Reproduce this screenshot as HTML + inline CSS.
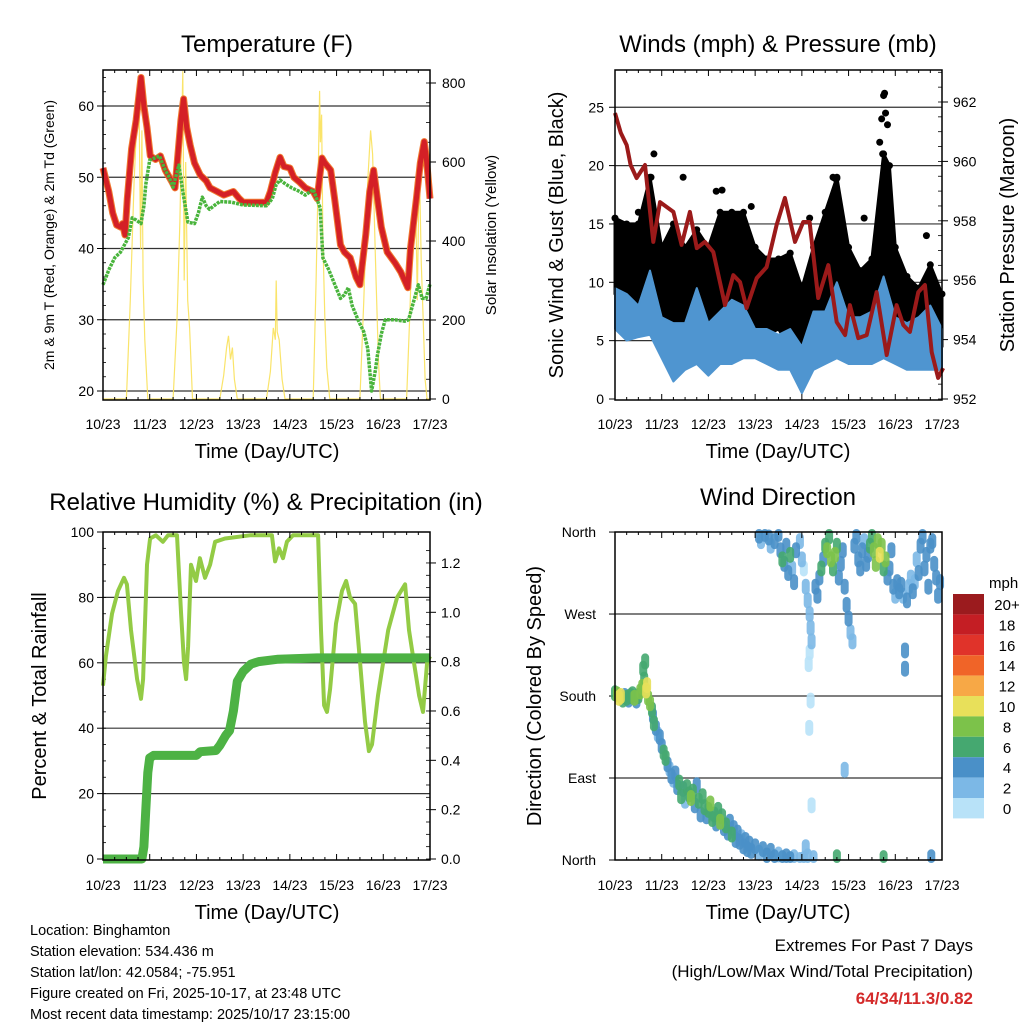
<!DOCTYPE html>
<html><head><meta charset="utf-8"><style>
html,body{margin:0;padding:0;background:#fff}
svg{display:block;font-family:"Liberation Sans",sans-serif}
</style></head><body>
<svg id="c" width="1024" height="1024" viewBox="0 0 1024 1024" xmlns="http://www.w3.org/2000/svg"></svg>
<script>
// ---- Temperature panel data ----
const redH=[0,3,5,7,9,10,11.3,12.5,14.7,17,19.5,21,22.6,24.3,27,29.5,32,35.5,37,38,40,41.4,43,44.8,47,50,53,55,58.6,62,67,70,72,78,84,86,88.5,91,93,96,98,101,104,108,110,112.5,114,117,119,122,124,127,130,132,135,137,139,141,143,146,150,153,156.6,158,161,163,165,166,167,168];
const redV=[51.3,48,45,43.3,43,43.5,41.9,47,54,58,64,60,57,53,52.5,53,51,49.3,48.5,51.7,58,61,57,54.5,52,50.3,49.5,48.5,48,47.5,48,47,46.5,46.5,46.5,48,50.7,52.8,51.5,51.3,50,49.3,48.5,48,47,52.7,52,51,47,40.5,39.5,38.7,36,34.9,42,48,51,47,43,39.5,38,36.7,34.5,40,47,52,55,53,50,47];
const grnH=[0,3,6,9,13,15,17,19.5,21,22,24,29,32,34,36,39,41,43.6,47,49,51,53,54.7,57,60,66,72,84,87,89,91,94,97,101,104,108,111.6,113,116,119,122,124,126,128,131,134,136,138,140,141,143,145,150,155,157,159,162,164,166,168];
const grnV=[34.9,37,38.7,39.5,41.5,44.3,44,43.5,46,49,52.4,53,51,50,48.6,51.7,48,43.7,43.5,45,47.2,46,45.5,46,46.6,46.5,46.1,46,47,49,49.6,49,48.5,48,47.5,48.3,45.7,38.7,37,35,33,33.5,34.5,32,30,28.3,26,20,23,25,28,30,30,29.8,30,32,34.9,33,33,35];
const solH=[0,12,14,16,17.5,18.5,19.3,20,20.6,21.5,23,36,38,39.5,40.5,41,41.7,42.5,43.5,44.5,46,60,62,63.5,64.5,65.5,66.5,67.5,69,84,86,87.5,88.5,89,89.5,90.5,92,93.5,108,109.5,110.5,111.3,111.7,112.3,113,114,115,116.5,132,134,136,137.5,138.5,140,141.5,142.5,156,157.5,159,160.5,161.5,162.5,163.5,164.5,165.5,166.5,168];
const solV=[0,0,250,550,720,760,380,680,300,150,0,0,200,450,700,830,300,600,250,180,0,0,60,130,160,100,130,50,0,0,70,180,150,300,170,150,50,0,0,300,550,780,650,720,400,200,80,0,0,250,550,680,620,350,100,0,0,200,420,550,250,600,350,200,50,0,0];
const tempTicks=[20,30,40,50,60];
const solarTicks=[0,200,400,600,800];
const dayLabels=["10/23","11/23","12/23","13/23","14/23","15/23","16/23","17/23"];
// ---- Wind panel data ----
const presH=[0,3,6,8,11.1,14.5,15.4,19.7,23.1,30,34.2,38.5,42,46.2,50.5,56.5,60.8,64.2,67.6,72.8,77.9,83,87.3,92.5,96.7,100,104.4,109.6,113.9,118.2,120.7,125,129.3,134.4,139.6,144.7,148.1,151.5,155.8,159.2,162.7,166,168.6];
const presV=[961.63,960.96,960.55,959.88,959.44,959.78,959.88,957.29,958.63,958.3,957.19,958.3,957.08,957.29,956.95,955.16,956.17,955.94,955.06,956.07,956.44,957.86,958.77,957.29,957.96,957.96,955.4,956.51,954.59,954.15,955.16,954.05,954.15,955.6,953.48,955.16,954.49,954.26,955.6,955.84,953.58,952.71,953.04];
const windH=[0,6,12,18,24,30,36,42,48,54,60,66,72,78,84,90,96,102,108,114,120,126,132,138,144,150,156,162,168];
const windHi=[9.5,9,8,11,7,6.5,6.5,9.5,6.5,7.5,8.5,8,6,6,5.5,6,4.5,7.5,7.5,10,7,7,7.5,10.5,7,6.5,7,8,6];
const windLo=[6,5,5.3,5.5,3.5,1.5,2.5,3,2,3,3,3.5,3.5,3,2.5,2.5,0.5,2.5,3,3.5,3,3,3,3.5,3,2.5,2.5,2.5,2.5];
const gustH=[0,6,12,18,24,30,36,42,48,54,60,66,72,78,84,90,96,102,108,114,120,126,132,138,141,144,150,156,162,168];
const gustHi=[15.5,15,15,19,13,15,13,14.5,13,16,16,16,13,12,12,12.5,9.5,13,16,19,13,11,12,21,20,13,10.5,9.5,11.5,9];
const gustLo=[9,8,8,9,4,3.5,3.5,5,4.5,6.5,7,6,6,5.5,6,4.5,2,6,6,7,6,5.5,5,8,8,5,4.5,3.5,5,4.5];
const gustPeakH=[2,12,18.5,20,35,52,55,70,100,112,113,114,128,136,137,137.5,138,138.5,139,140,160];
const gustPeakV=[14,16,19,21,19,17.8,17.9,16.5,15.5,19,18.9,18.9,15.5,22,24,21,26,26.2,24.5,23.5,14];
const windTicks=[0,5,10,15,20,25];
const presTicks=[952,954,956,958,960,962];
// ---- RH panel data ----
const rhH=[0,1.5,4.6,7.7,10.8,12.3,14.4,17.5,19.5,20.6,22.6,24.2,27.2,30.8,33.4,38,40.1,41.6,42.7,43.7,45.2,47.8,49.8,52.4,55,57.6,62.7,75.5,86.8,88.4,90.4,92.5,94.5,97.6,110.5,112,113.6,115.1,116.7,119.7,122.8,124.9,126.9,129.5,132.1,134.6,136.6,138.2,141.3,146.5,151.1,155.2,157.2,159.8,162.4,164.4,166.5,168];
const rhV=[53,62,75,82,86,84,70,55,49,55,90,98,99,97,99,99,75,60,55,65,90,85,92,86,90,97,98,99,99,91,95,92,97,99,99,70,47,45,52,72,82,85,80,78,60,42,33,35,50,70,80,84,70,60,50,45,60,62];
const rainH=[0,20,21,22,23,24,26,48,50,58,60,63,65,67,69,72,76,80,90,110,168];
const rainV=[0,0,0.05,0.2,0.35,0.41,0.42,0.42,0.435,0.44,0.46,0.5,0.52,0.6,0.72,0.76,0.79,0.8,0.81,0.815,0.815];
const rhTicks=[0,20,40,60,80,100];
const rainTicks=[0,0.2,0.4,0.6,0.8,1.0,1.2];
// ---- Wind direction data: hour, degrees, mph ----
const dirH=[
0,1,2,3,4,5,6,7,8,9,
10,11,12,13,14,14.5,15,15.5,16,16.5,
17,18,19,19.5,20,21,22,23,24,25,
26,27,28,29,30,31,32,33,34,35,
36,37,38,39,40,41,42,43,44,45,
46,47,48,49,50,51,52,53,54,55,
56,57,58,59,60,61,62,63,64,65,
66,67,68,69,70,72,74,76,78,80,
82,84,86,88,90,92,95,97,99,102,
74,75,77,79,80,82,84,85,86,87,
88,89,90,91,92,93,95,96,97,98,
99,100,100.5,101,100,99.5,100.5,99.8,101,98,
103,104,105,106,107,108,109,110,111,112,
113,114,115,116,117,118,119,120,121,122,
123,124,125,126,127,128,129,130,131,132,
133,134,135,136,137,138,139,140,141,142,
143,144,145,146,147,148,149,149,150,151,
152,153,154,155,156,157,158,159,160,161,
162,163,164,165,166,167,118,114,138,162.5];
const dirD=[
183,182,178,180,176,180,178,176,180,182,
178,175,180,185,190,210,198,218,186,192,
178,172,165,158,150,145,138,135,125,118,
112,105,100,92,88,95,80,85,70,78,
65,80,72,68,75,60,82,65,50,70,
58,48,55,62,45,50,40,55,42,48,
35,38,30,42,28,35,22,30,20,25,
15,22,12,18,10,15,8,12,5,10,
3,6,2,4,1,3,0,1,4,2,
356,350,358,354,345,350,358,340,330,325,
345,315,335,320,305,340,350,330,320,300,
285,270,255,240,228,215,175,145,60,14,
300,290,310,320,330,345,340,355,330,320,
335,345,310,325,340,300,280,265,250,240,
345,355,330,320,340,350,325,335,345,355,
340,325,350,335,345,320,330,310,320,340,
300,290,305,295,302,290,230,210,285,300,
310,295,305,330,315,345,355,320,335,300,
345,350,325,310,290,305,99,3,2,3];
const dirS=[
6,9,10,11,7,5,6,4,7,6,
8,5,6,8,9,6,7,6,11,10,
9,8,7,5,6,4,3,5,4,7,
6,4,3,4,3,5,4,7,6,4,
3,7,6,8,6,4,5,6,4,6,
7,5,6,8,6,7,5,6,8,6,
5,6,4,5,6,4,5,4,4,3,
4,5,4,5,4,4,3,4,4,5,
4,3,4,4,5,3,3,3,3,3,
4,3,4,4,3,4,5,4,6,5,
4,4,6,3,4,5,2,2,1,2,
2,2,2,2,1,1,1,1,1,2,
4,4,5,6,4,7,8,6,9,7,
8,6,4,4,4,4,4,4,3,3,
4,4,4,5,4,3,4,4,6,7,
8,8,9,10,9,7,8,4,4,4,
4,3,4,4,4,3,4,4,4,3,
3,4,3,3,4,4,4,5,4,4,
4,5,4,4,4,4,3,6,6,4];
const dirTickLabels=["North","East","South","West","North"];
const cbLabels=["20+","18","16","14","12","10","8","6","4","2","0"];
const cbColors=["#9b1b1e","#c41e24","#e0332a","#f06428","#f7a846","#e8e05a","#7cc24a","#45a870","#4a90c8","#7cb8e6","#b8e2f8"];

const NS="http://www.w3.org/2000/svg";
const svg=document.getElementById('c');
function mk(tag,attrs,parent){const e=document.createElementNS(NS,tag);for(const k in attrs)e.setAttribute(k,attrs[k]);(parent||svg).appendChild(e);return e;}
function txt(s,x,y,size,anchor,extra){const e=mk('text',Object.assign({x:x,y:y,'font-size':size,'text-anchor':anchor||'middle',fill:'#000'},extra||{}));e.textContent=s;return e;}
function line(x1,y1,x2,y2,w,c){return mk('line',{x1:x1,y1:y1,x2:x2,y2:y2,stroke:c||'#000','stroke-width':w||1});}
function poly(hs,vs,fx,fy){return hs.map((h,i)=>fx(h).toFixed(1)+','+fy(vs[i]).toFixed(1)).join(' ');}

const xA=h=>103+h*327/168, xB=h=>615+h*327/168;
const yT=v=>391-(v-20)*7.125, yS=v=>399-v*0.395;
const yW=v=>399-v*11.67, yP=p=>399-(p-952)*29.7;
const yR=v=>859-v*3.27, yIn=v=>859-v*246.7;
const yD=d=>860-d*0.911;
let e;

function dayAxis(fx,top,bot,ylab,name){
  for(let i=0;i<dayLabels.length;i++){
    const x=fx(i*24);
    line(x,bot,x,bot-6,1);line(x,top,x,top+6,1);
    for(let k=1;k<4&&i<7;k++){const xm=fx(i*24+k*6);line(xm,bot,xm,bot-3,1);line(xm,top,xm,top+3,1);}
    e=txt(dayLabels[i],x,ylab,14);
    
    
  }
}
function frame(x0,y0,x1,y1,name){
  e=mk('rect',{x:x0,y:y0,width:x1-x0,height:y1-y0,fill:'none',stroke:'#000','stroke-width':1.5});
  
  
}

// ================= Panel 1: Temperature =================
e=txt("Temperature (F)",267,52,24);


tempTicks.forEach(v=>{const y=yT(v);line(103,y,430,y,1.2,'#333');line(103,y,97,y,1);
  e=txt(String(v),94,y+5,14,'end');
  
  });
for(let v=20;v<=64;v+=2){line(103,yT(v),106,yT(v),0.8);}
solarTicks.forEach(v=>{const y=yS(v);line(430,y,436,y,1);
  e=txt(String(v),442,y+5,14,'start');
  
  });
for(let v=0;v<=800;v+=50){line(430,yS(v),426,yS(v),0.8);}
e=mk('polyline',{points:poly(solH,solV,xA,yS),fill:'none',stroke:'#f9e15a','stroke-width':1.2,'stroke-opacity':0.9});


e=mk('polyline',{points:poly(redH,redV,xA,yT),fill:'none',stroke:'#f07a30','stroke-width':7,'stroke-linejoin':'round'});


e=mk('polyline',{points:poly(redH,redV,xA,yT),fill:'none',stroke:'#d42026','stroke-width':5,'stroke-linejoin':'round'});


e=mk('polyline',{points:poly(grnH,grnV,xA,yT),fill:'none',stroke:'#49b43c','stroke-width':3.5,'stroke-dasharray':'3 1','stroke-linejoin':'round'});


frame(103,70,430,400,'temperature');
dayAxis(xA,70,400,429,'temperature');
e=txt("Time (Day/UTC)",267,458,20);


e=txt("2m & 9m T (Red, Orange) & 2m Td (Green)",0,0,14,'middle',{transform:'translate(54,235) rotate(-90)'});


e=txt("Solar Insolation (Yellow)",0,0,15,'middle',{transform:'translate(496,235) rotate(-90)'});



// ================= Panel 2: Winds =================
e=txt("Winds (mph) & Pressure (mb)",778,52,24);


windTicks.forEach(v=>{const y=yW(v);if(v>0)line(615,y,942,y,1.2,'#333');line(615,y,609,y,1);
  e=txt(String(v),604,y+5,14,'end');
  
  });
presTicks.forEach(v=>{const y=yP(v);line(942,y,948,y,1);
  e=txt(String(v),953,y+5,14,'start');
  
  });
for(let v=952;v<=963;v+=0.5){line(942,yP(v),938,yP(v),0.8);}
const gustPts=gustH.map((h,i)=>xB(h).toFixed(1)+','+yW(gustHi[i]).toFixed(1)).concat(gustH.slice().reverse().map((h,j)=>{const i=gustH.length-1-j;return xB(h).toFixed(1)+','+yW(gustLo[i]).toFixed(1);})).join(' ');
e=mk('polygon',{points:gustPts,fill:'#000',stroke:'#000','stroke-width':3,'stroke-linejoin':'round'});


gustH.forEach((h,i)=>{
  e=mk('circle',{cx:xB(h),cy:yW(gustHi[i]),r:3.5,fill:'#000'});
  
  
});
gustPeakH.forEach((h,i)=>{
  e=mk('circle',{cx:xB(h),cy:yW(gustPeakV[i]),r:3.5,fill:'#000'});
  
  
});
const windPts=windH.map((h,i)=>xB(h).toFixed(1)+','+yW(windHi[i]).toFixed(1)).concat(windH.slice().reverse().map((h,j)=>{const i=windH.length-1-j;return xB(h).toFixed(1)+','+yW(windLo[i]).toFixed(1);})).join(' ');
e=mk('polygon',{points:windPts,fill:'#4f95d0',stroke:'#4f95d0','stroke-width':2,'stroke-linejoin':'round'});


e=mk('polyline',{points:poly(presH,presV,xB,yP),fill:'none',stroke:'#9b1a1a','stroke-width':4,'stroke-linejoin':'round'});


frame(615,70,942,400,'winds');
dayAxis(xB,70,400,429,'winds');
e=txt("Time (Day/UTC)",778,458,20);


e=txt("Sonic Wind & Gust (Blue, Black)",0,0,20,'middle',{transform:'translate(563,235) rotate(-90)'});


e=txt("Station Pressure (Maroon)",0,0,20,'middle',{transform:'translate(1014,235) rotate(-90)'});



// ================= Panel 3: RH & Precip =================
e=txt("Relative Humidity (%) & Precipitation (in)",266,510,24);


rhTicks.forEach(v=>{const y=yR(v);if(v>0&&v<100)line(103,y,430,y,1.2,'#333');line(103,y,97,y,1);
  e=txt(String(v),94,y+5,14,'end');
  
  });
for(let v=0;v<=100;v+=5){line(103,yR(v),106,yR(v),0.8);}
rainTicks.forEach(v=>{const y=yIn(v);line(430,y,436,y,1);
  e=txt(v.toFixed(1),441,y+5,14,'start');
  
  });
for(let v=0;v<=1.3;v+=0.05){line(430,yIn(v),426,yIn(v),0.8);}
e=mk('polyline',{points:poly(rhH,rhV,xA,yR),fill:'none',stroke:'#93cb45','stroke-width':4,'stroke-linejoin':'round'});


e=mk('polyline',{points:poly(rainH,rainV,xA,yIn),fill:'none',stroke:'#4db244','stroke-width':9,'stroke-linejoin':'round'});


frame(103,532,430,860,'humidity');
dayAxis(xA,532,860,890,'humidity');
e=txt("Time (Day/UTC)",267,919,20);


e=txt("Percent & Total Rainfall",0,0,20,'middle',{transform:'translate(46,696) rotate(-90)'});



// ================= Panel 4: Wind Direction =================
e=txt("Wind Direction",778,505,24);


dirTickLabels.forEach((s,i)=>{const y=yD(i*90);if(i>0&&i<4)line(615,y,942,y,1.2,'#333');line(615,y,609,y,1);
  e=txt(s,596,y+5,14,'end');
  
  });
function spdColor(s){let b=Math.floor((s||4)/2);if(b>10)b=10;if(b<0)b=0;return cbColors[10-b];}
// order slow first so faster (green/yellow) drawn on top
const order=dirH.map((h,i)=>i).sort((a,b)=>dirS[a]-dirS[b]);
order.forEach(i=>{
  const cy=Math.min(Math.max(yD(dirD[i]),532),860);
  const top=Math.max(cy-8,529), bot=Math.min(cy+8,863);
  e=mk('rect',{x:xB(dirH[i])-4,y:top,width:8,height:bot-top,rx:4,fill:spdColor(dirS[i]),'fill-opacity':0.9});
  
  
});
frame(615,532,942,860,'direction');
dayAxis(xB,532,860,890,'direction');
e=txt("Time (Day/UTC)",778,919,20);


e=txt("Direction (Colored By Speed)",0,0,20,'middle',{transform:'translate(541,696) rotate(-90)'});


e=txt("mph",989,588,15,'start');


cbColors.forEach((c,i)=>{
  const y=594+i*20.4;
  e=mk('rect',{x:953,y:y,width:31,height:20.4,fill:c});
  
  
  e=txt(cbLabels[i],1007,y+16,15,'middle');
  
  
});

// ================= Footer =================
const leftLines=["Location: Binghamton","Station elevation: 534.436 m","Station lat/lon: 42.0584; -75.951","Figure created on Fri, 2025-10-17, at 23:48 UTC","Most recent data timestamp: 2025/10/17 23:15:00"];
leftLines.forEach((s,i)=>{
  e=txt(s,30,935+i*21,14.5,'start');
  
  
});
e=txt("Extremes For Past 7 Days",973,951,17,'end');


e=txt("(High/Low/Max Wind/Total Precipitation)",973,977,17,'end');


e=txt("64/34/11.3/0.82",973,1004,17,'end',{fill:'#d42a2a','font-weight':'bold'});


</script>
</body></html>
